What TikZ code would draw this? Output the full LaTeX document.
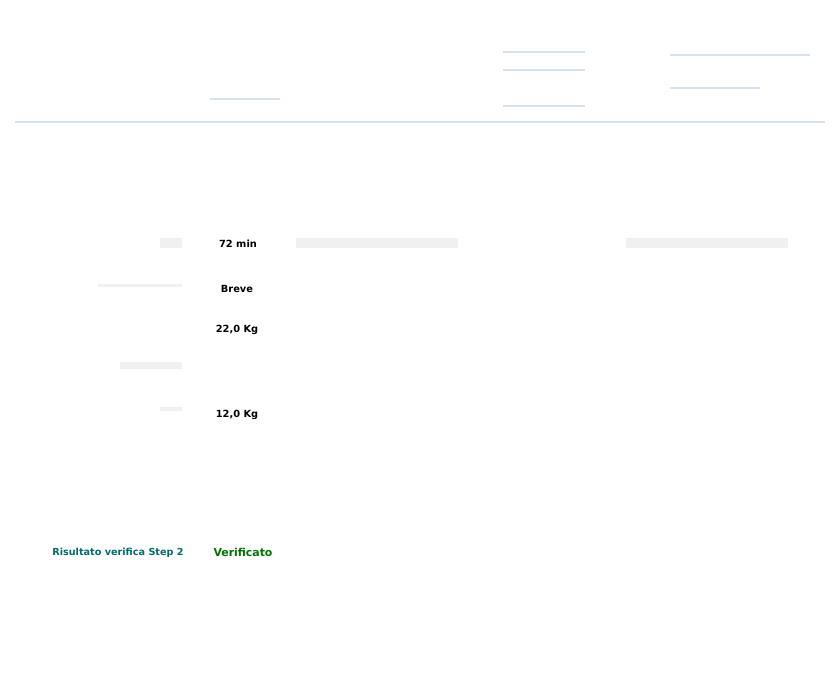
\documentclass[tikz,border=0pt]{standalone}
\usepackage{fontspec}
\setmainfont{DejaVu Sans}
\definecolor{rulecol}{RGB}{214,226,242}
\begin{document}
\begin{tikzpicture}[x=0.02cm, y=-0.02cm,
    value/.style={font=\fontsize{5.6}{7}\selectfont\bfseries, text=black},
    result/.style={font=\fontsize{5.5}{7}\selectfont\bfseries},
    bar/.style={fill=black!6, draw=none},
    rule/.style={draw=rulecol, line width=0.6pt}]
    \useasboundingbox (0,0) rectangle (836,684);
    % Faint header rules
    \draw[rule] (15,122) -- (825,122);
    \draw[rule] (503,52) -- (585,52);
    \draw[rule] (503,70) -- (585,70);
    \draw[rule] (503,106) -- (585,106);
    \draw[rule] (670,55) -- (810,55);
    \draw[rule] (670,88) -- (760,88);
    \draw[rule] (210,99) -- (280,99);
    % Grey field bars
    \fill[bar] (296,238) rectangle (458,248);
    \fill[bar] (626,238) rectangle (788,248);
    \fill[bar] (160,238) rectangle (182,248);
    \fill[bar] (98,284) rectangle (182,287);
    \fill[bar] (120,362) rectangle (182,369);
    \fill[bar] (160,407) rectangle (182,411);
    % Values
    \node[value] (tempo) at (238,244) {72 min};
    \node[value] (durata) at (237,289) {Breve};
    \node[value] (peso) at (237,330) {22,0 Kg};
    \node[value] (limite) at (237,415) {12,0 Kg};
    % Result
    \node[result, text=teal!85!black] (label) at (118,553) {Risultato verifica Step 2};
    \node[result, text=green!45!black, font=\fontsize{6.2}{7}\selectfont\bfseries] (esito) at (243,552) {Verificato};
\end{tikzpicture}
\end{document}
